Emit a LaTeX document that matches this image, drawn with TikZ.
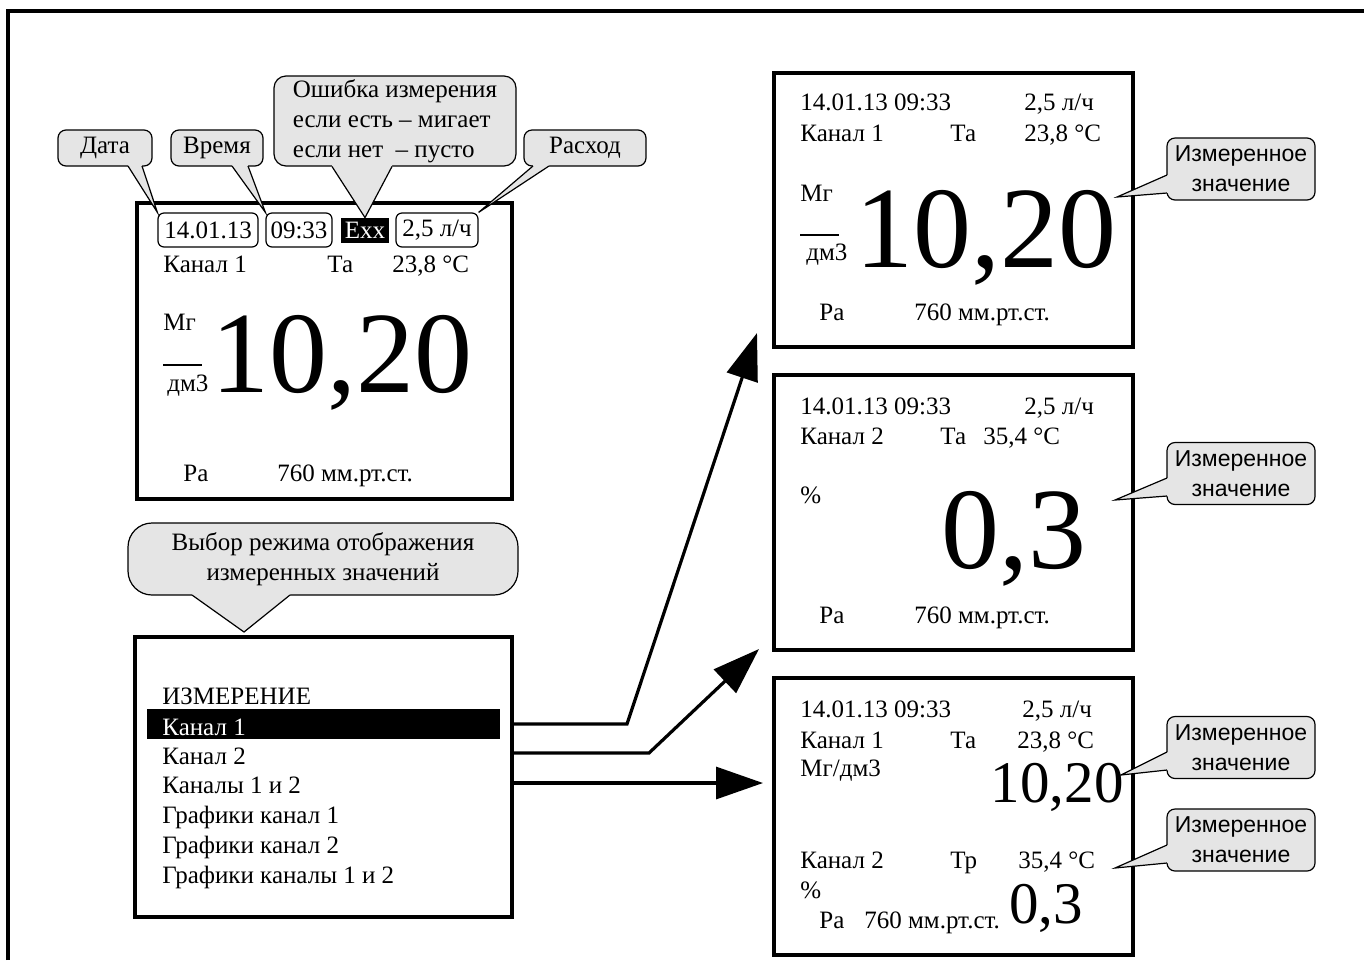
\documentclass[tikz,border=0pt]{standalone}
\usepackage{fontspec}
\setmainfont{Liberation Serif}
\newfontfamily\sansfnt{Liberation Sans}
\usepackage{tikz}
\usetikzlibrary{arrows.meta, calc}
\tikzstyle{screen} = [draw, rectangle, line width=2.2pt, inner sep=0pt]
\tikzstyle{lcd} = [inner sep=0pt, anchor=base west, font=\fontsize{12.5}{15}\selectfont]
\tikzstyle{bignum} = [inner sep=0pt, anchor=base west, font=\fontsize{58}{60}\selectfont]
\tikzstyle{midnum} = [inner sep=0pt, anchor=base west, font=\fontsize{29.5}{30}\selectfont]
\tikzstyle{field} = [draw, rectangle, rounded corners=3pt, line width=0.6pt, inner sep=0pt, minimum height=17pt, font=\fontsize{12.5}{15}\selectfont]
\tikzstyle{bubble} = [draw, rectangle, fill=gray!20, rounded corners=4pt, line width=0.6pt, inner sep=0pt, align=center, font=\fontsize{12.5}{15}\selectfont]
\tikzstyle{sbubble} = [bubble, minimum width=74pt, minimum height=31pt, font=\sansfnt\fontsize{11.5}{15}\selectfont]
\tikzstyle{link} = [->, line width=1.6pt]
% хвост выноски
\newcommand{\calltail}[4]{%
  \fill[gray!20] ($#1+#4$) -- #1 -- #2 -- #3 -- ($#3+#4$) -- cycle;
  \draw[line width=0.6pt] #1 -- #2 -- #3;}

\begin{document}
\begin{tikzpicture}[x=0.5pt, y=-0.5pt, >={Triangle[length=23.5pt, width=16pt]}]
    \useasboundingbox (0,0) rectangle (1364,960);
    \draw[line width=2pt] (7.5,960) -- (7.5,10.5) -- (1364,10.5);

    % основной экран
    \node[screen, minimum width=187.5pt, minimum height=148pt] (main) at (324.5,351) {};
    \node[field, minimum width=50pt] (date) at (208,230) {14.01.13};
    \node[field, minimum width=33pt] (time) at (299,230) {09:33};
    \node[fill=black, text=white, inner sep=0pt, minimum width=24pt, minimum height=12.5pt, font=\fontsize{12.5}{15}\selectfont] (err) at (365,230.5) {Exx};
    \node[field, minimum width=41pt] (flow) at (437,230) {2,5 л/ч};
    \node[lcd] (mch) at (163,272) {Канал 1};
    \node[lcd] (mta) at (327,272) {Та};
    \node[lcd] (mtemp) at (392,272) {23,8 °C};
    \node[lcd] (mmg) at (163,330) {Мг};
    \draw[line width=0.6pt] (163,365) -- (202,365);
    \node[lcd] (mdm) at (167,391.5) {дм3};
    \node[bignum] (mval) at (211,392) {10,20};
    \node[lcd] (mpa) at (183,481.5) {Ра};
    \node[lcd] (mmm) at (277,481.5) {760 мм.рт.ст.};

    % выноски сверху
    \node[bubble, minimum width=47pt, minimum height=18pt] (cdate) at (105,148) {Дата};
    \calltail{(128,166)}{(date.north west)}{(142,166)}{(0,-3)}
    \node[bubble, minimum width=46pt, minimum height=18pt] (ctime) at (217,148) {Время};
    \calltail{(232,166)}{(time.north west)}{(248,166)}{(0,-3)}
    \node[bubble, rounded corners=6pt, minimum width=121pt, minimum height=45pt] (cerr) at (395,121)
        {\begin{tabular}{@{}l@{}}Ошибка измерения\\если есть – мигает\\если нет\ \ – пусто\end{tabular}};
    \calltail{(332,166.5)}{(err.north)}{(392,166.5)}{(0,-3)}
    \node[bubble, minimum width=61pt, minimum height=18pt] (cflow) at (585,148) {Расход};
    \calltail{(533,166)}{(flow.north east)}{(549,166)}{(0,-3)}

    % меню
    \node[bubble, rounded corners=12pt, minimum width=195pt, minimum height=36pt] (cmode) at (323,559)
        {Выбор режима отображения\\измеренных значений};
    \coordinate (tmode) at (244,632);
    \calltail{(192,595)}{(tmode)}{(290,595)}{(0,-3)}
    \node[screen, minimum width=188.5pt, minimum height=140pt] (menu) at (323.5,777) {};
    \node[fill=black, inner sep=0pt, minimum width=176.5pt, minimum height=15pt] (bar) at (323.5,724) {};
    \node[lcd] (mtitle) at (162,704) {ИЗМЕРЕНИЕ};
    \node[lcd, text=white] (msel) at (162,735) {Канал 1};
    \foreach \y/\t [count=\i] in {764/Канал 2, 793/Каналы 1 и 2, 823/Графики канал 1, 853/Графики канал 2, 883/Графики каналы 1 и 2}
        \node[lcd] (m\i) at (162,\y) {\t};

    % экран канала 1
    \node[screen, minimum width=179.5pt, minimum height=137pt] (s1) at (953.5,210) {};
    \node[lcd] (s1dt) at (800,110.5) {14.01.13 09:33};
    \node[lcd] (s1fl) at (1024,110.5) {2,5 л/ч};
    \node[lcd] (s1ch) at (800,141.5) {Канал 1};
    \node[lcd] (s1ta) at (950,141.5) {Та};
    \node[lcd] (s1t) at (1024,141.5) {23,8 °C};
    \node[lcd] (s1mg) at (800,201.5) {Мг};
    \draw[line width=0.6pt] (800,235) -- (839,235);
    \node[lcd] (s1dm) at (806,260) {дм3};
    \node[bignum] (s1val) at (855,267) {10,20};
    \node[lcd] (s1pa) at (819,320) {Ра};
    \node[lcd] (s1mm) at (914,320) {760 мм.рт.ст.};

    % экран канала 2
    \node[screen, minimum width=179.5pt, minimum height=137.5pt] (s2) at (953.5,512.5) {};
    \node[lcd] (s2dt) at (800,414) {14.01.13 09:33};
    \node[lcd] (s2fl) at (1024,414) {2,5 л/ч};
    \node[lcd] (s2ch) at (800,444) {Канал 2};
    \node[lcd] (s2ta) at (940,444) {Та};
    \node[lcd] (s2t) at (983,444) {35,4 °C};
    \node[lcd] (s2pc) at (800,503) {\%};
    \node[bignum] (s2val) at (941,568) {0,3};
    \node[lcd] (s2pa) at (819,623) {Ра};
    \node[lcd] (s2mm) at (914,623) {760 мм.рт.ст.};

    % экран каналов 1 и 2
    \node[screen, minimum width=179.5pt, minimum height=138.5pt] (s3) at (953.5,816.5) {};
    \node[lcd] (s3dt) at (800,717.5) {14.01.13 09:33};
    \node[lcd] (s3fl) at (1022,717.5) {2,5 л/ч};
    \node[lcd] (s3ch) at (800,748) {Канал 1};
    \node[lcd] (s3ta) at (950,748) {Та};
    \node[lcd] (s3t) at (1017,748) {23,8 °C};
    \node[lcd] (s3mg) at (800,776) {Мг/дм3};
    \node[midnum] (s3val) at (990.5,802) {10,20};
    \node[lcd] (s3chb) at (800,868) {Канал 2};
    \node[lcd] (s3tp) at (950,868) {Тр};
    \node[lcd] (s3tb) at (1018,868) {35,4 °C};
    \node[lcd] (s3pc) at (800,898) {\%};
    \node[lcd] (s3pa) at (819,928) {Ра};
    \node[lcd] (s3mm) at (864,928) {760 мм.рт.ст.};
    \node[midnum] (s3valb) at (1009,923) {0,3};

    % выноски справа
    \coordinate (t1) at (1117,197);
    \coordinate (t2) at (1115,500);
    \coordinate (t3) at (1121,775);
    \coordinate (t4) at (1115,868);
    \node[sbubble] (v1) at (1241,169) {Измеренное\\значение};
    \calltail{(1167,175)}{(t1)}{(1167,193)}{(3,0)}
    \node[sbubble] (v2) at (1241,473.5) {Измеренное\\значение};
    \calltail{(1167,478)}{(t2)}{(1167,496)}{(3,0)}
    \node[sbubble] (v3) at (1241,747.5) {Измеренное\\значение};
    \calltail{(1167,752)}{(t3)}{(1167,770)}{(3,0)}
    \node[sbubble] (v4) at (1241,840) {Измеренное\\значение};
    \calltail{(1167,845)}{(t4)}{(1167,863)}{(3,0)}

    % переходы
    \coordinate (k1) at (627,724);
    \coordinate (k2) at (649,753);
    \coordinate (a1) at (757,333);
    \coordinate (a2) at (759,649);
    \coordinate (a3) at (763,783);
    \draw[link] (menu.east |- k1) -- (k1) -- (a1);
    \draw[link] (menu.east |- k2) -- (k2) -- (a2);
    \draw[link] (menu.east |- a3) -- (a3);
\end{tikzpicture}
\end{document}
